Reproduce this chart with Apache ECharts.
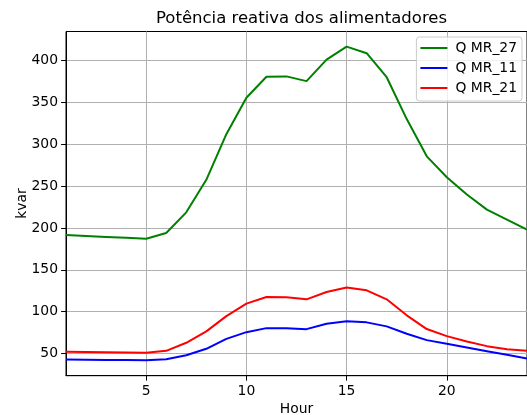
<!DOCTYPE html>
<html>
<head>
<meta charset="utf-8">
<script src="https://cdn.jsdelivr.net/npm/echarts@6/dist/echarts.min.js"></script>
<style>
  html, body { margin: 0; padding: 0; background: #fff; }
  #chart { width: 527px; height: 415px; }
</style>
</head>
<body>
<div id="chart"></div>
<script>
// Hours of the day (1..24)
const hours = [1,2,3,4,5,6,7,8,9,10,11,12,13,14,15,16,17,18,19,20,21,22,23,24];

// Reactive power per feeder, kvar
const qMR27 = [191.5,190.4,189.3,188.2,187.0,194.0,218.6,257.5,312.0,355.5,380.5,381.0,375.3,401.0,416.5,408.7,380.0,330.0,285.5,260.5,240.0,221.8,210.0,198.0];
const qMR11 = [42.8,42.6,42.4,42.2,42.0,43.2,48.0,55.6,67.5,75.5,80.3,80.3,79.1,85.6,88.4,87.2,82.4,73.6,66.0,61.6,57.2,52.8,48.4,44.0];
const qMR21 = [52.0,51.7,51.4,51.1,50.8,53.2,62.8,76.4,94.7,109.6,117.5,117.2,114.7,123.5,128.8,125.5,114.7,95.6,79.2,70.8,64.4,58.8,55.2,53.2];

const xTicks = [5, 10, 15, 20];
const yTicks = [50, 100, 150, 200, 250, 300, 350, 400];

const seriesNames = ['Q MR_27', 'Q MR_11', 'Q MR_21'];
const seriesColors = ['#008000', '#0000ff', '#ff0000'];
const seriesValues = [qMR27, qMR11, qMR21];

const FONT = 'DejaVu Sans';

const chart = echarts.init(document.getElementById('chart'), null, { renderer: 'canvas' });

chart.setOption({
  animation: false,
  backgroundColor: '#ffffff',
  textStyle: { fontFamily: FONT },
  title: {
    text: 'Potência reativa dos alimentadores',
    left: 296.5,
    textAlign: 'center',
    top: 5,
    textStyle: { fontFamily: FONT, fontSize: 16.5, fontWeight: 'normal', color: '#000' }
  },
  legend: {
    data: seriesNames,
    orient: 'vertical',
    right: 5,
    top: 37,
    icon: 'rect',
    itemWidth: 27,
    itemHeight: 2,
    itemGap: 6,
    padding: [4, 5, 6, 4],
    backgroundColor: 'rgba(255,255,255,0.8)',
    borderColor: '#cccccc',
    borderWidth: 1,
    borderRadius: 3,
    textStyle: { fontFamily: FONT, fontSize: 13.9, color: '#000', padding: [0, 0, 0, 3] }
  },
  grid: {
    left: 66,
    top: 31.5,
    right: 0,
    bottom: 39.3,
    show: true,
    borderColor: '#000',
    borderWidth: 1,
    containLabel: false,
    outerBoundsMode: 'none'
  },
  xAxis: {
    type: 'value',
    min: 1,
    max: 24,
    name: 'Hour',
    nameLocation: 'middle',
    nameGap: 27,
    nameMoveOverlap: false,
    nameTextStyle: { fontFamily: FONT, fontSize: 13.9, color: '#000' },
    axisLine: { show: true, onZero: false, lineStyle: { color: '#000', width: 1 } },
    axisTick: { show: true, length: 4.9, lineStyle: { color: '#000', width: 1 }, customValues: xTicks },
    axisLabel: { customValues: xTicks, margin: 9, fontFamily: FONT, fontSize: 13.9, color: '#000' },
    splitLine: { show: true, lineStyle: { color: '#b0b0b0', width: 1 } }
  },
  yAxis: {
    type: 'value',
    min: 23.5,
    max: 434.6,
    name: 'kvar',
    nameLocation: 'middle',
    nameGap: 37,
    nameMoveOverlap: false,
    nameTextStyle: { fontFamily: FONT, fontSize: 13.9, color: '#000' },
    axisLine: { show: true, onZero: false, lineStyle: { color: '#000', width: 1 } },
    axisTick: { show: true, length: 4.9, lineStyle: { color: '#000', width: 1 }, customValues: yTicks },
    axisLabel: { customValues: yTicks, margin: 8, fontFamily: FONT, fontSize: 13.9, color: '#000' },
    splitLine: { show: true, lineStyle: { color: '#b0b0b0', width: 1 } }
  },
  series: seriesNames.map((name, i) => ({
    name: name,
    type: 'line',
    data: hours.map((h, k) => [h, seriesValues[i][k]]),
    showSymbol: false,
    symbol: 'none',
    color: seriesColors[i],
    lineStyle: { color: seriesColors[i], width: 2 },
    emphasis: { disabled: true }
  }))
});
</script>
</body>
</html>
